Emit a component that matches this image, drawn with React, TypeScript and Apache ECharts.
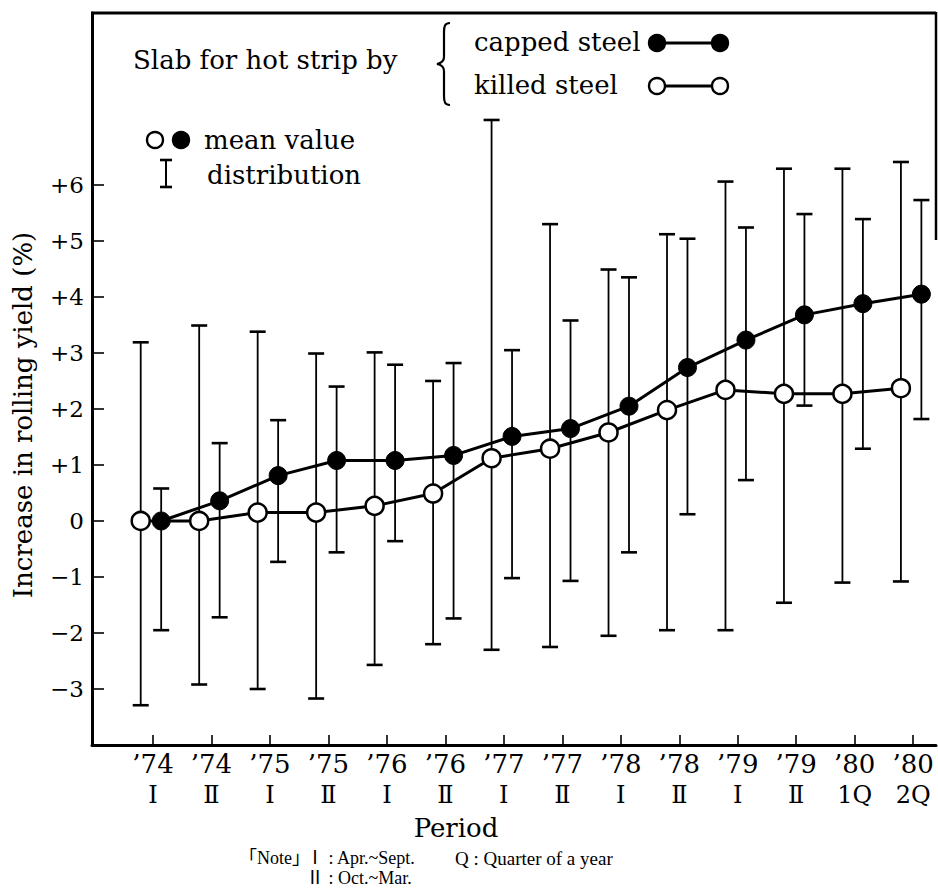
import React, { useEffect, useRef } from "react";
import * as echarts from "echarts";

// ---- data ----
const periods = ["’74", "’74", "’75", "’75", "’76", "’76", "’77", "’77", "’78", "’78", "’79", "’79", "’80", "’80"];
const halves = ["Ⅰ", "Ⅱ", "Ⅰ", "Ⅱ", "Ⅰ", "Ⅱ", "Ⅰ", "Ⅱ", "Ⅰ", "Ⅱ", "Ⅰ", "Ⅱ", "1Q", "2Q"];
const cappedMean = [0, 0.36, 0.81, 1.08, 1.08, 1.17, 1.51, 1.65, 2.05, 2.74, 3.23, 3.68, 3.88, 4.05];
const cappedLow = [-1.95, -1.72, -0.73, -0.56, -0.36, -1.74, -1.02, -1.07, -0.56, 0.12, 0.73, 2.06, 1.29, 1.82];
const cappedHigh = [0.58, 1.39, 1.8, 2.4, 2.79, 2.82, 3.05, 3.58, 4.35, 5.04, 5.24, 5.48, 5.39, 5.73];
const killedMean = [0, 0, 0.15, 0.15, 0.27, 0.49, 1.12, 1.29, 1.58, 1.98, 2.34, 2.27, 2.27, 2.37];
const killedLow = [-3.29, -2.92, -3.0, -3.17, -2.57, -2.2, -2.3, -2.25, -2.05, -1.95, -1.95, -1.46, -1.1, -1.08];
const killedHigh = [3.19, 3.49, 3.38, 2.99, 3.01, 2.5, 7.16, 5.3, 4.49, 5.12, 6.06, 6.29, 6.29, 6.41];
const yTicks = [-3, -2, -1, 0, 1, 2, 3, 4, 5, 6];

// horizontal offsets (in period units) of the two series around each tick
const KILLED_SHIFT = -0.21;
const CAPPED_SHIFT = 0.14;

const SERIF = "'DejaVu Serif', serif";
const TSERIF = "'Liberation Serif', 'Noto Sans CJK JP', serif";

echarts.graphic.registerShape(
  "brace",
  echarts.graphic.extendPath(
    "M13,0 C8,0 7,3 7,9 L7,34 C7,38 5,40 0,41 C5,42 7,44 7,48 L7,73 C7,79 8,82 13,82",
    {}
  )
);

const xIdx = periods.map((_, i) => i);

function errorBars(low: number[], high: number[], shift: number) {
  return {
    type: "custom",
    z: 1,
    silent: true,
    data: low.map((lo, i) => [i + shift, lo, high[i]]),
    renderItem: (params: any, api: any) => {
      const x = api.value(0);
      const top = api.coord([x, api.value(2)]);
      const bot = api.coord([x, api.value(1)]);
      const hw = 8;
      const st = { stroke: "#000", lineWidth: 1.8 };
      const cap = { stroke: "#000", lineWidth: 2.6 };
      return {
        type: "group",
        children: [
          { type: "line", shape: { x1: top[0], y1: top[1], x2: bot[0], y2: bot[1] }, style: st },
          { type: "line", shape: { x1: top[0] - hw, y1: top[1], x2: top[0] + hw, y2: top[1] }, style: cap },
          { type: "line", shape: { x1: bot[0] - hw, y1: bot[1], x2: bot[0] + hw, y2: bot[1] }, style: cap },
        ],
      };
    },
  };
}

function buildOption(): any {
  const txt = (x: number, y: number, text: string, size = 26, font = SERIF, extra: any = {}) => ({
    type: "text",
    x,
    y,
    style: { text, fontSize: size, fontFamily: font, fill: "#000", verticalAlign: "middle", ...extra },
  });
  const circ = (cx: number, cy: number, filled: boolean) => ({
    type: "circle",
    shape: { cx, cy, r: 8 },
    style: { fill: filled ? "#000" : "#fff", stroke: "#000", lineWidth: 2.4 },
    z: 10,
  });
  const ln = (x1: number, y1: number, x2: number, y2: number, w = 3) => ({
    type: "line",
    shape: { x1, y1, x2, y2 },
    style: { stroke: "#000", lineWidth: w },
  });

  return {
    animation: false,
    backgroundColor: "#fff",
    grid: { left: 92, right: 2, top: 13, bottom: 143, containLabel: false, outerBoundsMode: "none" },
    xAxis: {
      type: "value",
      min: -1.043,
      max: 13.39,
      axisLine: { onZero: false, lineStyle: { color: "#000", width: 3 } },
      axisTick: { inside: true, length: 10, customValues: xIdx, lineStyle: { color: "#000", width: 1.6 } },
      splitLine: { show: false },
      axisLabel: {
        customValues: xIdx,
        margin: 4,
        formatter: (v: number) => `{a|${periods[v]}}\n{b|${halves[v]}}`,
        rich: {
          a: { fontSize: 26, fontFamily: SERIF, color: "#000", lineHeight: 30 },
          b: { fontSize: 24, fontFamily: SERIF, color: "#000", lineHeight: 32 },
        },
      },
    },
    yAxis: {
      type: "value",
      min: -4,
      max: 9.07,
      axisLine: { show: true, onZero: false, lineStyle: { color: "#000", width: 3 } },
      axisTick: { show: true, inside: true, length: 12, customValues: yTicks, lineStyle: { color: "#000", width: 1.6 } },
      splitLine: { show: false },
      axisLabel: {
        customValues: yTicks,
        margin: 8,
        fontSize: 23,
        fontFamily: SERIF,
        color: "#000",
        formatter: (v: number) => (v > 0 ? `+${v}` : v < 0 ? `−${Math.abs(v)}` : "0"),
      },
    },
    series: [
      errorBars(killedLow, killedHigh, KILLED_SHIFT),
      errorBars(cappedLow, cappedHigh, CAPPED_SHIFT),
      {
        type: "line",
        name: "killed steel",
        z: 3,
        data: killedMean.map((v, i) => [i + KILLED_SHIFT, v]),
        symbol: "circle",
        symbolSize: 18,
        showAllSymbol: true,
        lineStyle: { color: "#000", width: 3 },
        itemStyle: { color: "#fff", borderColor: "#000", borderWidth: 2.5 },
      },
      {
        type: "line",
        name: "capped steel",
        z: 4,
        data: cappedMean.map((v, i) => [i + CAPPED_SHIFT, v]),
        symbol: "circle",
        symbolSize: 18,
        showAllSymbol: true,
        lineStyle: { color: "#000", width: 3 },
        itemStyle: { color: "#000", borderColor: "#000", borderWidth: 1 },
      },
    ],
    graphic: [
      ln(91, 13, 936, 13, 3),
      ln(936, 12, 936, 240, 2.5),
      txt(133, 60, "Slab for hot strip by"),
      { type: "brace", x: 437, y: 23, style: { stroke: "#000", fill: "none", lineWidth: 2.2 } },
      txt(474, 42, "capped steel"),
      txt(474, 85, "killed steel"),
      ln(657, 43, 720, 43, 3),
      circ(657, 43, true),
      circ(720, 43, true),
      ln(657, 86, 720, 86, 3),
      circ(657, 86, false),
      circ(720, 86, false),
      circ(155, 140, false),
      circ(181, 140, true),
      txt(204, 140, "mean value"),
      ln(166, 160, 166, 187, 2),
      ln(160, 160, 172, 160, 2.6),
      ln(160, 187, 172, 187, 2.6),
      txt(207, 175, "distribution"),
      {
        type: "text",
        x: 23,
        y: 415,
        rotation: Math.PI / 2,
        style: {
          text: "Increase in rolling yield (%)",
          fontSize: 26,
          fontFamily: SERIF,
          fill: "#000",
          align: "center",
          verticalAlign: "middle",
        },
      },
      {
        type: "text",
        x: 456,
        y: 828,
        style: { text: "Period", fontSize: 26, fontFamily: SERIF, fill: "#000", align: "center", verticalAlign: "middle" },
      },
      txt(248, 858, "｢Note｣", 18, TSERIF),
      txt(306, 858, "Ⅰ : Apr.~Sept.", 18, TSERIF),
      txt(455, 858, "Q : Quarter of a year", 19, TSERIF),
      txt(306, 878, "Ⅱ : Oct.~Mar.", 18, TSERIF),
    ],
  };
}

export default function App() {
  const ref = useRef<HTMLDivElement>(null);
  useEffect(() => {
    if (!ref.current) return;
    const chart = echarts.init(ref.current, undefined, { renderer: "svg" });
    chart.setOption(buildOption());
    return () => chart.dispose();
  }, []);
  return (
    <div
      ref={ref}
      style={{ position: "fixed", left: 0, top: 0, width: 938, height: 888, background: "#fff" }}
    />
  );
}
